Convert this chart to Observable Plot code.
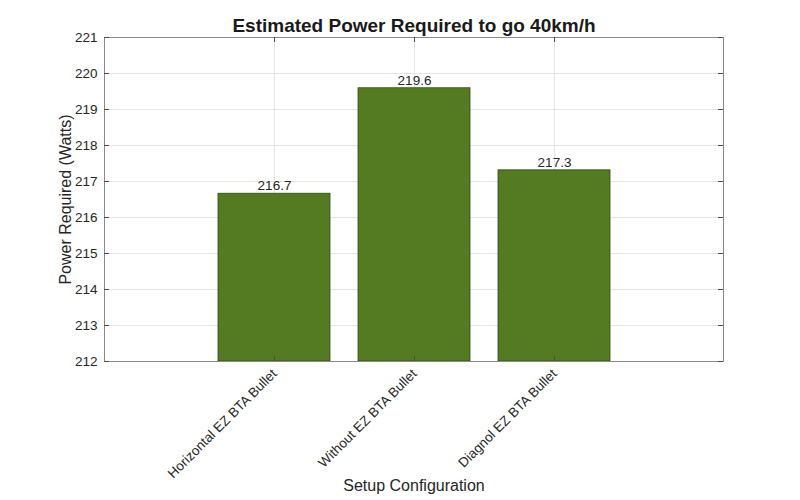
<!DOCTYPE html>
<html>
<head>
<meta charset="utf-8">
<script src="https://cdn.jsdelivr.net/npm/d3@7"></script>
<script src="https://cdn.jsdelivr.net/npm/@observablehq/plot@0.6"></script>
<style>
  html, body { margin: 0; padding: 0; background: #fff; }
</style>
</head>
<body>
<div id="chart"></div>
<script>
const categories = ["Horizontal EZ BTA Bullet", "Without EZ BTA Bullet", "Diagnol EZ BTA Bullet"];
const values = [216.66, 219.59, 217.31];
const yDomain = [212, 221];
const yTicks = [212, 213, 214, 215, 216, 217, 218, 219, 220, 221];
const title = "Estimated Power Required to go 40km/h";
const xLabel = "Setup Configuration";
const yLabel = "Power Required (Watts)";

const data = categories.map((c, i) => ({category: c, value: values[i]}));

const W = 800, H = 500, mL = 104, mR = 77, mT = 37, mB = 139;
const plotW = W - mL - mR, plotH = H - mT - mB;
const textColor = "#262626";
const gridColor = "#e4e4e4";
const tickColor = "#4d4d4d";

const chart = Plot.plot({
  width: W,
  height: H,
  marginLeft: mL,
  marginRight: mR,
  marginTop: mT,
  marginBottom: mB,
  style: {fontFamily: "'Liberation Sans', Arial, sans-serif", fontSize: "13.5px", color: textColor, background: "#fff"},
  x: {type: "band", domain: categories, paddingInner: 0.2, paddingOuter: 0.8, label: null},
  y: {domain: yDomain, label: null},
  marks: [
    Plot.gridY(yTicks, {stroke: gridColor, strokeOpacity: 1}),
    Plot.gridX(categories, {stroke: gridColor, strokeOpacity: 1}),
    Plot.barY(data, {x: "category", y1: yDomain[0], y2: "value", fill: "#557b22", stroke: "#2e4a14", strokeWidth: 0.8}),
    Plot.text(data, {x: "category", y: "value", text: d => d.value.toFixed(1), dy: -8, fontSize: 13.5, fill: textColor}),
    Plot.frame({stroke: "#8a8a8a"}),
    Plot.tickY(yTicks, {y: d => d, stroke: tickColor, insetRight: plotW - 5}),
    Plot.tickY(yTicks, {y: d => d, stroke: tickColor, insetLeft: plotW - 5}),
    Plot.tickX(categories, {x: d => d, stroke: tickColor, insetTop: plotH - 5}),
    Plot.tickX(categories, {x: d => d, stroke: tickColor, insetBottom: plotH - 5}),
    Plot.axisY(yTicks, {tickSize: 0, tickPadding: 7, fontSize: 13.5, fill: textColor}),
    Plot.axisX({tickSize: 0, tickPadding: 10, tickRotate: -45, fontSize: 13.5, fill: textColor}),
    Plot.text([yLabel], {frameAnchor: "left", textAnchor: "middle", rotate: -90, dx: -39, fontSize: 16, fill: textColor}),
    Plot.text([xLabel], {frameAnchor: "bottom", textAnchor: "middle", dy: 129, fontSize: 16, fill: textColor}),
    Plot.text([title], {frameAnchor: "top", textAnchor: "middle", dy: -19, fontSize: 19, fontWeight: "bold", fill: "#1a1a1a"})
  ]
});
document.getElementById("chart").appendChild(chart);
</script>
</body>
</html>
